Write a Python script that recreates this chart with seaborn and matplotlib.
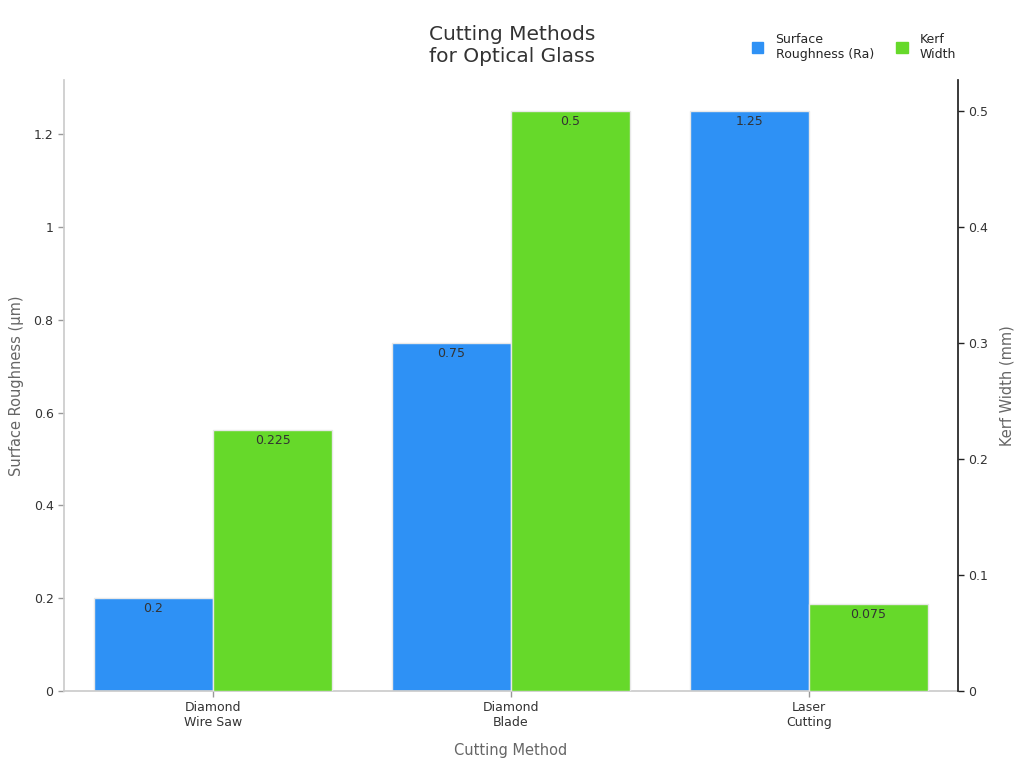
import pandas as pd
import matplotlib
matplotlib.use("Agg")
import matplotlib.pyplot as plt
import seaborn as sns
from matplotlib.patches import Patch
from matplotlib.ticker import FuncFormatter

# data
methods = ["Diamond\nWire Saw", "Diamond\nBlade", "Laser\nCutting"]
roughness = [0.2, 0.75, 1.25]   # um
kerf = [0.225, 0.5, 0.075]      # mm
series = ["Surface Roughness (Ra)", "Kerf Width"]
colors = {"Surface Roughness (Ra)": "#2E91F5", "Kerf Width": "#66D92A"}

df = pd.DataFrame({
    "method": methods * 2,
    "value": roughness + kerf,
    "metric": [series[0]] * 3 + [series[1]] * 3,
})

sns.set_theme(style="white")
plt.rcParams["font.family"] = ["DejaVu Sans"]

fig, ax = plt.subplots(figsize=(10.24, 7.68), dpi=100)
fig.subplots_adjust(left=0.0625, right=0.9355, top=0.896, bottom=0.1003)
ax2 = ax.twinx()

sns.barplot(data=df[df.metric == series[0]], x="method", y="value", hue="metric",
            hue_order=series, order=methods, palette=colors, ax=ax, dodge=True,
            saturation=1, edgecolor="#e8e8e8", linewidth=1, legend=False)
sns.barplot(data=df[df.metric == series[1]], x="method", y="value", hue="metric",
            hue_order=series, order=methods, palette=colors, ax=ax2, dodge=True,
            saturation=1, edgecolor="#e8e8e8", linewidth=1, legend=False)

for a in (ax, ax2):
    for c in a.containers:
        a.bar_label(c, fmt="%g", padding=-12, fontsize=9, color="#333333")

ax.set_xlim(-0.5, 2.5)
ax.set_ylim(0, 1.317)
ax2.set_ylim(0, 0.5268)
ax.set_yticks([0, 0.2, 0.4, 0.6, 0.8, 1.0, 1.2])
ax2.set_yticks([0, 0.1, 0.2, 0.3, 0.4, 0.5])
ax.yaxis.set_major_formatter(FuncFormatter(lambda v, p: f"{v:g}"))
ax2.yaxis.set_major_formatter(FuncFormatter(lambda v, p: f"{v:g}"))

ax.set_xlabel("Cutting Method", fontsize=10.5, color="#666666", labelpad=10)
ax.set_ylabel("Surface Roughness (μm)", fontsize=10.5, color="#666666", labelpad=7)
ax2.set_ylabel("Kerf Width (mm)", fontsize=10.5, color="#666666", labelpad=8)

ax.tick_params(axis="both", labelsize=9, labelcolor="#333333", color="#999999",
               length=4, width=1, left=True, bottom=True)
ax2.tick_params(axis="y", labelsize=9, labelcolor="#333333", color="#222222",
                length=4, width=1, right=True, left=False)
for a in (ax, ax2):
    a.spines["top"].set_visible(False)
ax.spines["left"].set_color("#cccccc")
ax.spines["bottom"].set_color("#cccccc")
ax.spines["right"].set_visible(False)
ax2.spines["left"].set_visible(False)
ax2.spines["bottom"].set_visible(False)
ax2.spines["right"].set_color("#222222")

fig.suptitle("Cutting Methods\nfor Optical Glass", x=0.5, y=0.968, fontsize=14.5, color="#333333")

handles = [Patch(color=colors[s]) for s in series]
fig.legend(handles, ["Surface\nRoughness (Ra)", "Kerf\nWidth"], loc="upper right",
           bbox_to_anchor=(0.945, 0.972), ncol=2, frameon=False, fontsize=9,
           handlelength=0.9, handleheight=0.9, columnspacing=1.8, handletextpad=1.0)

fig.savefig("out.png", dpi=100)
